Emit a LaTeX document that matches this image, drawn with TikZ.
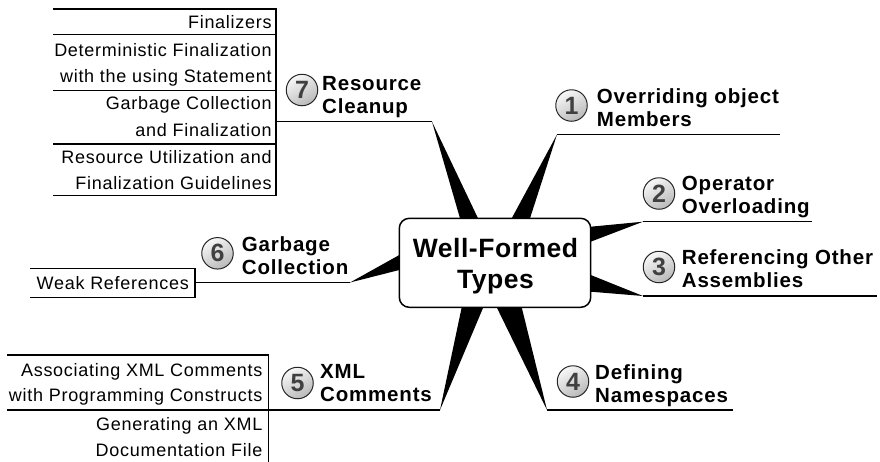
\documentclass[tikz,border=0pt]{standalone}
\usepackage{fontspec}
\setmainfont{Liberation Sans}
\newfontfamily\subfont[LetterSpace=4]{Liberation Sans}
\newfontfamily\labfont[LetterSpace=4]{Liberation Sans}
\newfontfamily\ctrfont[LetterSpace=2]{Liberation Sans}
\usetikzlibrary{calc}
\begin{document}
\begin{tikzpicture}[x=1pt,y=-1pt,
  subtext/.style={anchor=base east, inner sep=0pt, font=\subfont\fontsize{18}{20}\selectfont},
  labtext/.style={anchor=base west, inner sep=0pt, font=\labfont\bfseries\fontsize{20.5}{23}\selectfont},
  ctrtext/.style={anchor=base, inner sep=0pt, font=\ctrfont\bfseries\fontsize{26.5}{31}\selectfont},
  numcirc/.style={circle, minimum size=31.5pt, inner sep=0pt, draw=black!85, line width=1pt,
    top color=gray!6, bottom color=gray!55, shading angle=30, text=black!75,
    font=\bfseries\fontsize{25}{25}\selectfont},
  wedge/.style={fill=black, draw=none},
  branch/.style={line width=1.1pt},
  boxline/.style={line width=1.2pt},
  ctrbox/.style={draw, line width=1.5pt, fill=white, rounded corners=10pt}]
\useasboundingbox (0,0) rectangle (880,461);

% tips of the branches
\coordinate (t1) at (557,134.5);
\coordinate (t2) at (643,221.7);
\coordinate (t3) at (643,296);
\coordinate (t4) at (547,410);
\coordinate (t5) at (440,410);
\coordinate (t6) at (350,282.5);
\coordinate (t7) at (432,121.7);
% where wedges enter the central box
\coordinate (a1) at (511.7,218.3); \coordinate (b1) at (530,218.3);
\coordinate (a2) at (590.7,226.7); \coordinate (b2) at (590.7,241.7);
\coordinate (a3) at (590.7,275);   \coordinate (b3) at (590.7,291.7);
\coordinate (a4) at (496.7,307.3); \coordinate (b4) at (521.7,307.3);
\coordinate (a5) at (461.7,307.3); \coordinate (b5) at (483.3,307.3);
\coordinate (a6) at (399.3,255);   \coordinate (b6) at (399.3,270);
\coordinate (a7) at (460,218.3);   \coordinate (b7) at (478,218.3);

\foreach \i in {1,...,7}{
  \fill[wedge] (t\i) -- ($(t\i)!1.25!(a\i)$) -- ($(t\i)!1.25!(b\i)$) -- cycle;
}

% central box
\node[ctrbox, minimum width=191.4pt, minimum height=89pt, inner sep=0pt] (ctr) at (495,262.8) {};
\node[ctrtext] (ctrA) at (495.5,257) {Well-Formed};
\node[ctrtext] (ctrB) at (495.5,288) {Types};

% branch ends
\coordinate (u1) at (780,134.5);
\coordinate (u2) at (812,221.7);
\coordinate (u3) at (877,296);
\coordinate (u4) at (733,410);
\coordinate (u5) at (7,410);
\coordinate (u6) at (195,282.5);
\coordinate (u7) at (276,121.7);
\foreach \i in {1,...,7}{ \draw[branch] (t\i) -- (u\i); }

% branch labels
\node[numcirc] (n1) at (571.5,105.5) {1};
\node[labtext] (l1a) at (596.7,103.6) {Overriding object};
\node[labtext] (l1b) at (596.7,126.4) {Members};

\node[numcirc] (n2) at (659,193.5) {2};
\node[labtext] (l2a) at (681.7,190.4) {Operator};
\node[labtext] (l2b) at (681.7,213.4) {Overloading};

\node[numcirc] (n3) at (659,267) {3};
\node[labtext] (l3a) at (681.7,264.5) {Referencing Other};
\node[labtext] (l3b) at (681.7,287.5) {Assemblies};

\node[numcirc] (n4) at (573,381.5) {4};
\node[labtext] (l4a) at (595,379.3) {Defining};
\node[labtext] (l4b) at (595,402.3) {Namespaces};

\node[numcirc] (n5) at (297.5,383) {5};
\node[labtext] (l5a) at (320,378.5) {XML};
\node[labtext] (l5b) at (320,401.7) {Comments};

\node[numcirc] (n6) at (217.5,253.3) {6};
\node[labtext] (l6a) at (241.7,251.5) {Garbage};
\node[labtext] (l6b) at (241.7,274.3) {Collection};

\node[numcirc] (n7) at (302,90) {7};
\node[labtext] (l7a) at (322,90.4) {Resource};
\node[labtext] (l7b) at (322,113.2) {Cleanup};

% sub-topic boxes: Resource Cleanup
\draw[boxline] (53,9) -- (276,9) -- (276,195.7) -- (53,195.7);
\draw[boxline] (53,34.3) -- (276,34.3);
\draw[boxline] (53,90.7) -- (276,90.7);
\draw[boxline] (53,144) -- (276,144);
\node[subtext] (f1)  at (271.8,28.3)  {Finalizers};
\node[subtext] (f2a) at (271.8,56)    {Deterministic Finalization};
\node[subtext] (f2b) at (271.8,82.7)  {with the using Statement};
\node[subtext] (f3a) at (271.8,109.3) {Garbage Collection};
\node[subtext] (f3b) at (271.8,136.7) {and Finalization};
\node[subtext] (f4a) at (271.8,163.3) {Resource Utilization and};
\node[subtext] (f4b) at (271.8,189.3) {Finalization Guidelines};

% Garbage Collection
\draw[boxline] (30,268.3) -- (195,268.3) -- (195,297.7) -- (30,297.7);
\node[subtext] (w1) at (189,289.3) {Weak References};

% XML Comments
\draw[boxline] (7,355) -- (268.3,355) -- (268.3,462);
\node[subtext] (x1a) at (262.5,376)   {Associating XML Comments};
\node[subtext] (x1b) at (262.5,401.7) {with Programming Constructs};
\node[subtext] (x2a) at (262.5,430)   {Generating an XML};
\node[subtext] (x2b) at (262.5,456.7) {Documentation File};
\end{tikzpicture}
\end{document}
